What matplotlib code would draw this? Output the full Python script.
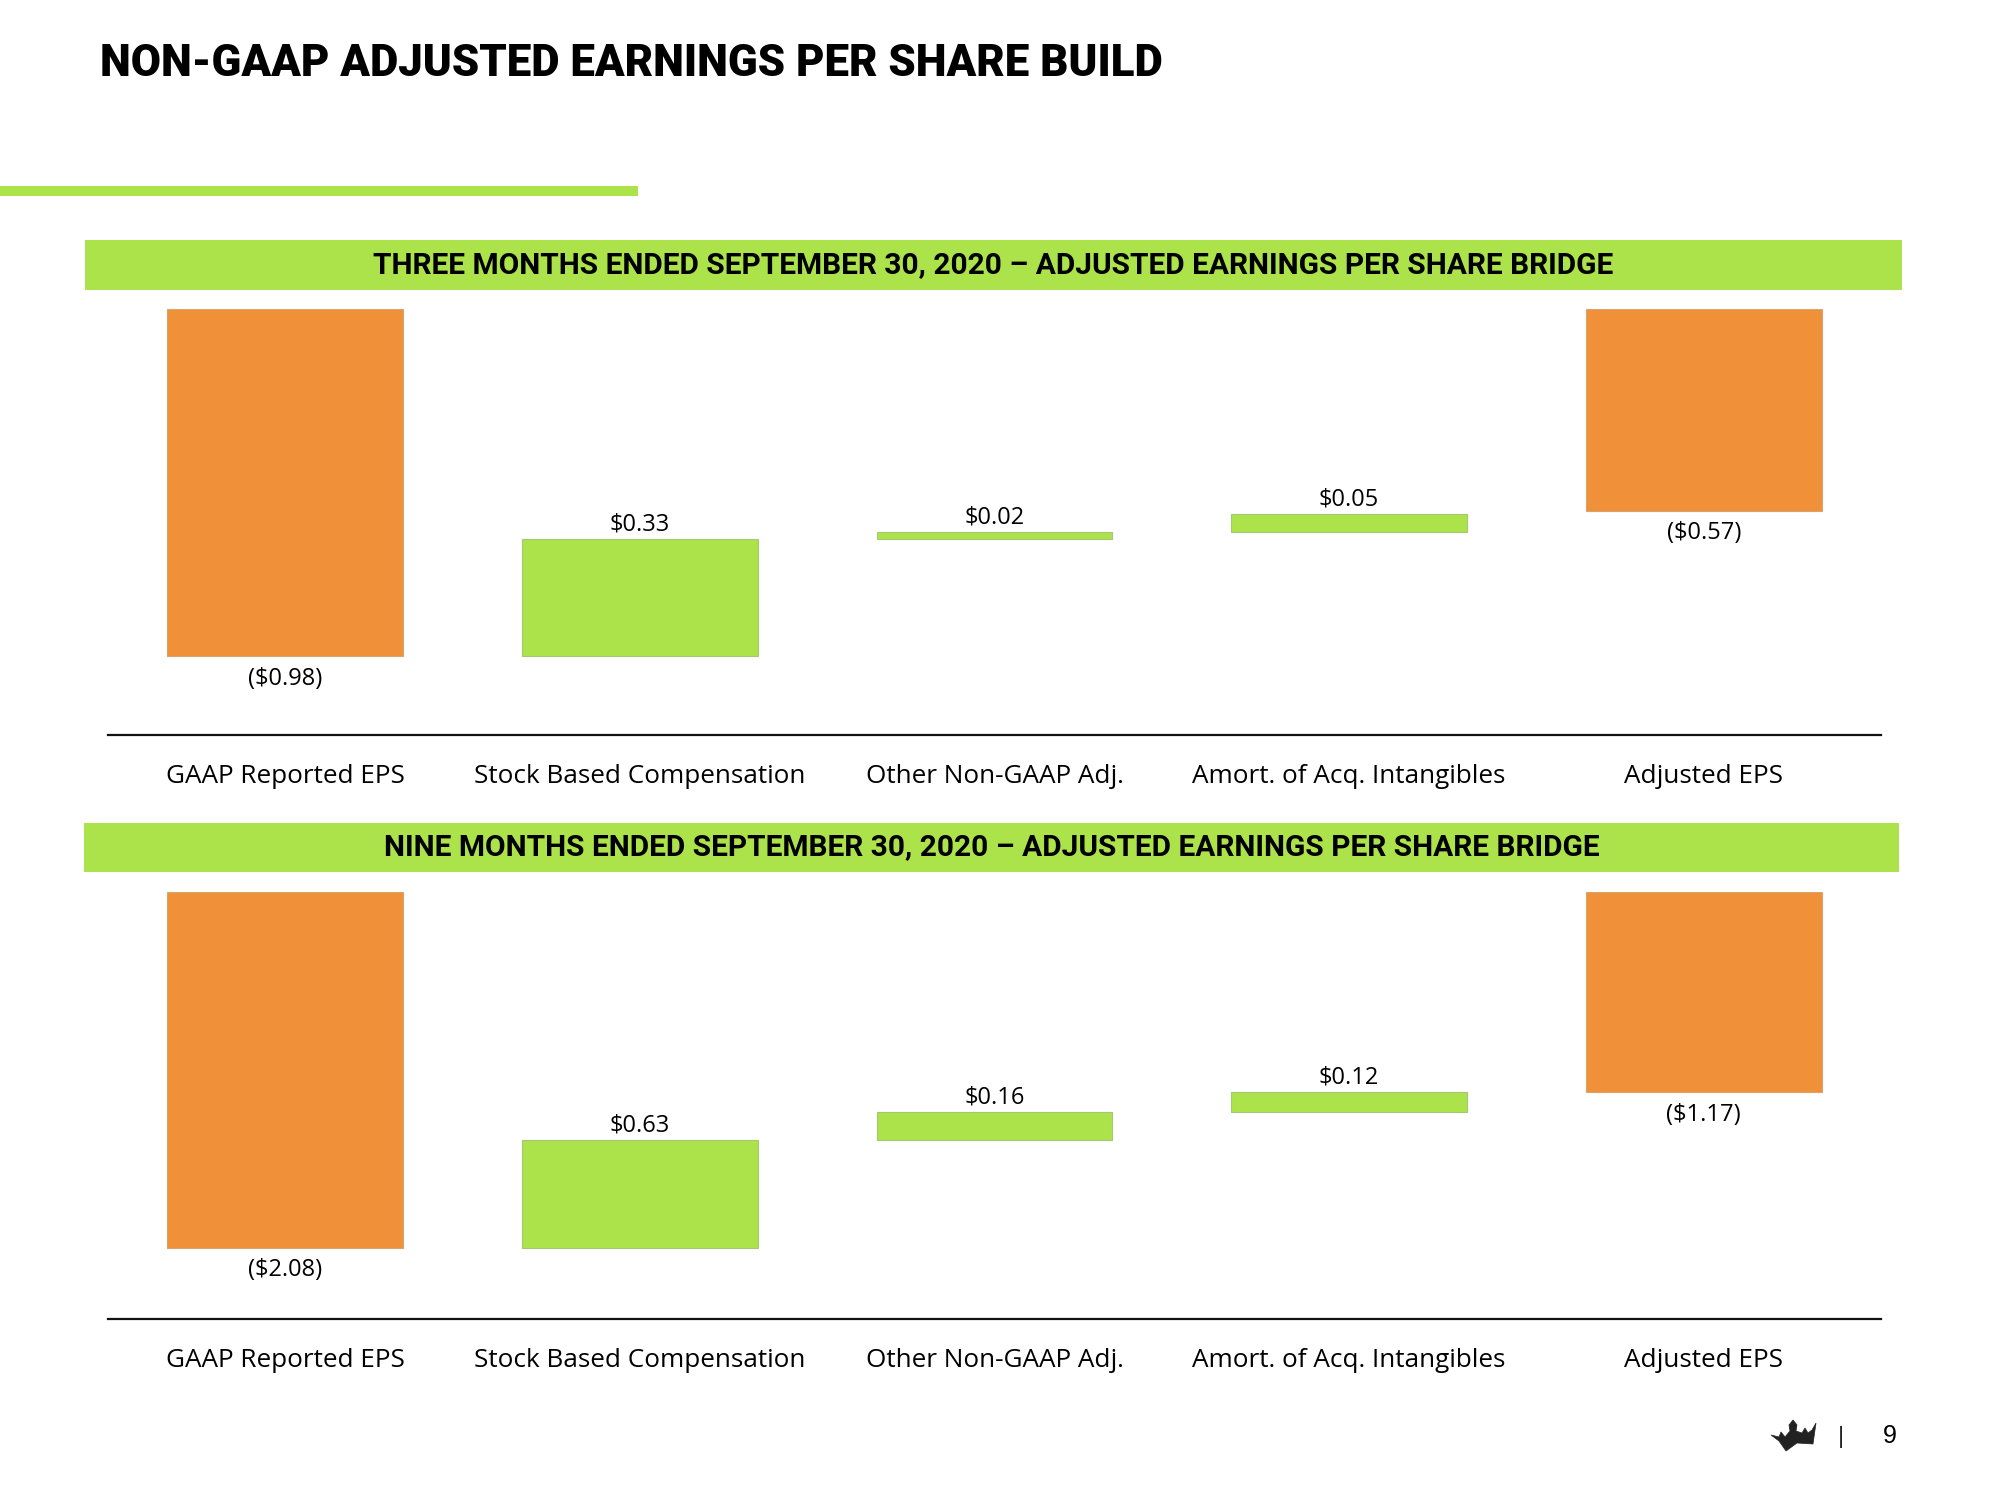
import matplotlib
matplotlib.use("Agg")
import matplotlib.pyplot as plt
from matplotlib.patches import Rectangle, Polygon

# ---------------- data ----------------
categories = ["GAAP Reported EPS", "Stock Based Compensation", "Other Non-GAAP Adj.",
              "Amort. of Acq. Intangibles", "Adjusted EPS"]

q3_start = -0.98
q3_adjustments = [0.33, 0.02, 0.05]
q3_end = -0.57

nine_start = -2.08
nine_adjustments = [0.63, 0.16, 0.12]
nine_end = -1.17

title = "NON-GAAP ADJUSTED EARNINGS PER SHARE BUILD"
header_q3 = "THREE MONTHS ENDED SEPTEMBER 30, 2020 \u2013 ADJUSTED EARNINGS PER SHARE BRIDGE"
header_nine = "NINE MONTHS ENDED SEPTEMBER 30, 2020 \u2013 ADJUSTED EARNINGS PER SHARE BRIDGE"
page_number = "9"

ORANGE = "#F09038"
GREEN = "#ADE34A"
W, H = 2000, 1500

fig = plt.figure(figsize=(20, 15), dpi=100)
fig.patch.set_facecolor("white")


def px(x, y):
    """pixel (top-left origin) -> figure fraction"""
    return x / W, 1 - y / H


def fmt(v):
    return f"(${abs(v):.2f})" if v < 0 else f"${v:.2f}"


# title
tx, ty = px(100, 64)
fig.text(tx, ty, title, family="Roboto", weight="black", fontsize=31.5,
         ha="left", va="center", color="black")

# green accent line
x0, y0 = px(0, 196)
fig.patches.append(Rectangle((x0, y0), 638 / W, 10 / H, transform=fig.transFigure,
                             facecolor=GREEN, edgecolor="none"))


def header(x1, x2, y1, y2, text):
    fx, fy = px(x1, y2)
    fig.patches.append(Rectangle((fx, fy), (x2 - x1) / W, (y2 - y1) / H,
                                 transform=fig.transFigure, facecolor=GREEN, edgecolor="none"))
    cx, cy = px((x1 + x2) / 2, (y1 + y2) / 2)
    fig.text(cx, cy, text, family="Roboto", weight="bold", fontsize=21.5,
             ha="center", va="center", color="black")


header(85, 1902, 240, 290, header_q3)
header(84, 1899, 823, 872, header_nine)


def waterfall(ax_rect, start, adjustments, end, ymin):
    ax = fig.add_axes(ax_rect)
    n = len(categories)
    bottoms, heights, colors, labels, above = [], [], [], [], []
    bottoms.append(start); heights.append(-start); colors.append(ORANGE)
    labels.append(fmt(start)); above.append(False)
    running = start
    for a in adjustments:
        bottoms.append(running); heights.append(a); colors.append(GREEN)
        labels.append(fmt(a)); above.append(True)
        running += a
    bottoms.append(end); heights.append(-end); colors.append(ORANGE)
    labels.append(fmt(end)); above.append(False)

    xs = list(range(n))
    edge = ["#d9a36f" if c == ORANGE else "#a3c777" for c in colors]
    ax.bar(xs, heights, bottom=bottoms, width=0.665, color=colors,
           edgecolor=edge, linewidth=0.8)
    for x, b, h, lab, up in zip(xs, bottoms, heights, labels, above):
        if up:
            ax.annotate(lab, (x, b + h), xytext=(0, 10.5), textcoords="offset points",
                        ha="center", va="center", fontsize=17, family="Open Sans")
        else:
            ax.annotate(lab, (x, b), xytext=(0, -16.5), textcoords="offset points",
                        ha="center", va="center", fontsize=17, family="Open Sans")
    for x, cat in zip(xs, categories):
        ax.annotate(cat, (x, 0), xycoords=("data", "axes fraction"),
                    xytext=(0, -30), textcoords="offset points",
                    ha="center", va="center", fontsize=18.8, family="Open Sans")
    ax.set_xlim(-0.5, n - 0.5)
    ax.set_ylim(ymin, 0)
    for s in ["top", "left", "right"]:
        ax.spines[s].set_visible(False)
    ax.spines["bottom"].set_linewidth(1.6)
    ax.spines["bottom"].set_color("#111111")
    ax.set_xticks([])
    ax.set_yticks([])
    ax.patch.set_alpha(0)
    return ax


l = 108 / W
w = (1881 - 108) / W
waterfall([l, 1 - 734.7 / H, w, (734.7 - 308.7) / H], q3_start, q3_adjustments, q3_end, -1.203)
waterfall([l, 1 - 1318.9 / H, w, (1318.9 - 891.6) / H], nine_start, nine_adjustments, nine_end, -2.497)

# footer: crown logo, separator, page number
crown_px = [(1771, 1435), (1779, 1437), (1781, 1432), (1785, 1437), (1790, 1431),
            (1789, 1425), (1793, 1420), (1797, 1425), (1796, 1431), (1802, 1433),
            (1805, 1428), (1808, 1433), (1812, 1430), (1816, 1423), (1813, 1444),
            (1797, 1443), (1786, 1451), (1779, 1441)]
crown = [px(x, y) for x, y in crown_px]
fig.patches.append(Polygon(crown, closed=True, transform=fig.transFigure,
                           facecolor="#222222", edgecolor="#222222", linewidth=0.5))
sx, sy = px(1841, 1437)
fig.text(sx, sy, "|", family="Liberation Sans", fontsize=17, ha="center", va="center", color="#222222")
nx, ny = px(1890, 1436)
fig.text(nx, ny, page_number, family="Liberation Sans", fontsize=18, ha="center", va="center", color="black")

fig.savefig("out.png", dpi=100, facecolor="white")
